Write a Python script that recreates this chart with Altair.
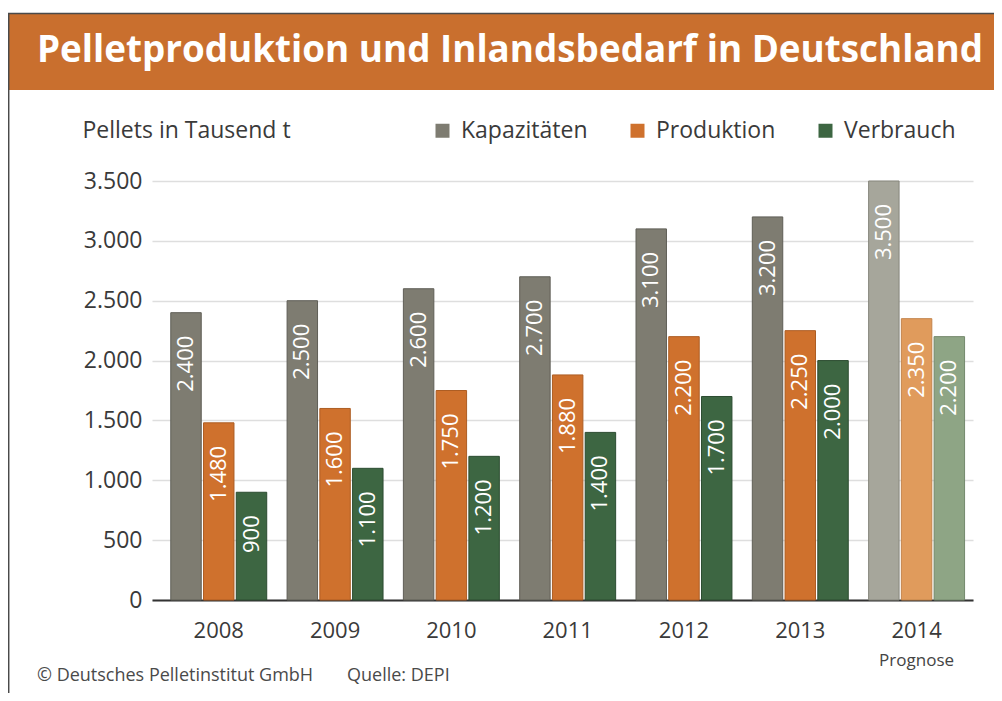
import altair as alt
import pandas as pd

years = ["2008", "2009", "2010", "2011", "2012", "2013", "2014"]
series = ["Kapazitäten", "Produktion", "Verbrauch"]
kapazitaeten = [2400, 2500, 2600, 2700, 3100, 3200, 3500]
produktion = [1480, 1600, 1750, 1880, 2200, 2250, 2350]
verbrauch = [900, 1100, 1200, 1400, 1700, 2000, 2200]
y_ticks = [0, 500, 1000, 1500, 2000, 2500, 3000, 3500]

title_text = "Pelletproduktion und Inlandsbedarf in Deutschland"
y_title = "Pellets in Tausend t"
footer_left = "© Deutsches Pelletinstitut GmbH"
footer_right = "Quelle: DEPI"
forecast_year = "2014"
forecast_note = "Prognose"

base_colors = ["#7e7c71", "#cf712d", "#3d6642"]
light_colors = ["#a6a69b", "#e09b5c", "#8ea585"]
base_strokes = ["#5f5e56", "#ad5d23", "#2c4c31"]
light_strokes = ["#86867c", "#c3844b", "#74896c"]

rows = []
for s, vals in zip(series, [kapazitaeten, produktion, verbrauch]):
    for y, v in zip(years, vals):
        key = s if y != forecast_year else s + " (Prognose)"
        rows.append({"year": y, "series": s, "key": key, "value": v,
                     "label": f"{v:,}".replace(",", ".")})
df = pd.DataFrame(rows)

key_domain = series + [s + " (Prognose)" for s in series]
FONT = "Open Sans"
TXT = "#3a3a3a"

x_enc = alt.X("year:N", sort=years, title=None,
              scale=alt.Scale(paddingInner=0.175, paddingOuter=0.117, align=0.69),
              axis=alt.Axis(domainColor="#333333", domainWidth=2, ticks=False,
                            labelFontSize=22, labelColor=TXT, labelFont=FONT,
                            labelPadding=20, labelAngle=0))
xoff_enc = alt.XOffset("series:N", sort=series,
                       scale=alt.Scale(domain=series, paddingInner=0.07, paddingOuter=0))
y_enc = alt.Y("value:Q", scale=alt.Scale(domain=[0, 3500], nice=False),
              axis=alt.Axis(values=y_ticks, title=y_title, titleAngle=0, titleAlign="left",
                            titleBaseline="middle", titleX=-70, titleY=-51,
                            titleFontSize=23, titleFontWeight="normal", titleColor=TXT,
                            titleFont=FONT,
                            labelExpr="replace(format(datum.value, ','), ',', '.')",
                            labelFontSize=23, labelColor=TXT, labelFont=FONT,
                            labelPadding=10, domain=False, ticks=False,
                            gridColor="#dedede", gridWidth=1.5))

bars = alt.Chart(df).mark_bar(strokeWidth=1).encode(
    x=x_enc,
    xOffset=xoff_enc,
    y=y_enc,
    color=alt.Color("key:N", scale=alt.Scale(domain=key_domain, range=base_colors + light_colors),
                    legend=alt.Legend(values=series, title=None, orient="none",
                                      direction="horizontal", legendX=279, legendY=-62,
                                      symbolType="square", symbolSize=196,
                                      symbolStrokeWidth=0, labelFontSize=23,
                                      labelFont=FONT, labelColor=TXT,
                                      labelOffset=7, columnPadding=38)),
    stroke=alt.Stroke("key:N", scale=alt.Scale(domain=key_domain, range=base_strokes + light_strokes),
                      legend=None),
)

labels = alt.Chart(df).mark_text(angle=270, align="right", baseline="middle", dx=-23,
                                 color="white", fontSize=22, font=FONT).encode(
    x=alt.X("year:N", sort=years),
    xOffset=alt.XOffset("series:N", sort=series),
    y="value:Q",
    text="label:N",
)

note = alt.Chart(pd.DataFrame({"year": [forecast_year], "t": [forecast_note]})).mark_text(
    fontSize=17, color="#444444", font=FONT, baseline="middle").encode(
    x=alt.X("year:N", sort=years), y=alt.value(480), text="t:N")

one = pd.DataFrame({"t": [title_text]})
banner = alt.Chart(one).mark_rect(color="#c96f2e").encode(
    x=alt.value(-143), x2=alt.value(842), y=alt.value(-167), y2=alt.value(-91))
top_line = alt.Chart(one).mark_rule(color="#4a4a4a", strokeWidth=1.5).encode(
    x=alt.value(-144), x2=alt.value(842), y=alt.value(-167.5))
left_line = alt.Chart(one).mark_rule(color="#4a4a4a", strokeWidth=1.5).encode(
    x=alt.value(-143.3), y=alt.value(-168), y2=alt.value(512))
title = alt.Chart(one).mark_text(color="white", fontSize=36.8, fontWeight="bold", font=FONT,
                                 align="left", baseline="alphabetic").encode(
    x=alt.value(-115), y=alt.value(-119), text="t:N")

foot1 = alt.Chart(pd.DataFrame({"t": [footer_left]})).mark_text(
    fontSize=18, color="#4a4a4a", font=FONT, align="left", baseline="middle").encode(
    x=alt.value(-115), y=alt.value(495), text="t:N")
foot2 = alt.Chart(pd.DataFrame({"t": [footer_right]})).mark_text(
    fontSize=18, color="#4a4a4a", font=FONT, align="left", baseline="middle").encode(
    x=alt.value(195), y=alt.value(495), text="t:N")

chart = alt.layer(banner, top_line, left_line, title, bars, labels, note, foot1, foot2).properties(
    width=821, height=419,
    autosize=alt.AutoSizeParams(type="none"),
    padding={"left": 144, "top": 173, "right": 21, "bottom": 93},
    background="white",
).configure_view(stroke=None)

chart.save("out.html", embed_options={"renderer": "svg", "actions": False})
